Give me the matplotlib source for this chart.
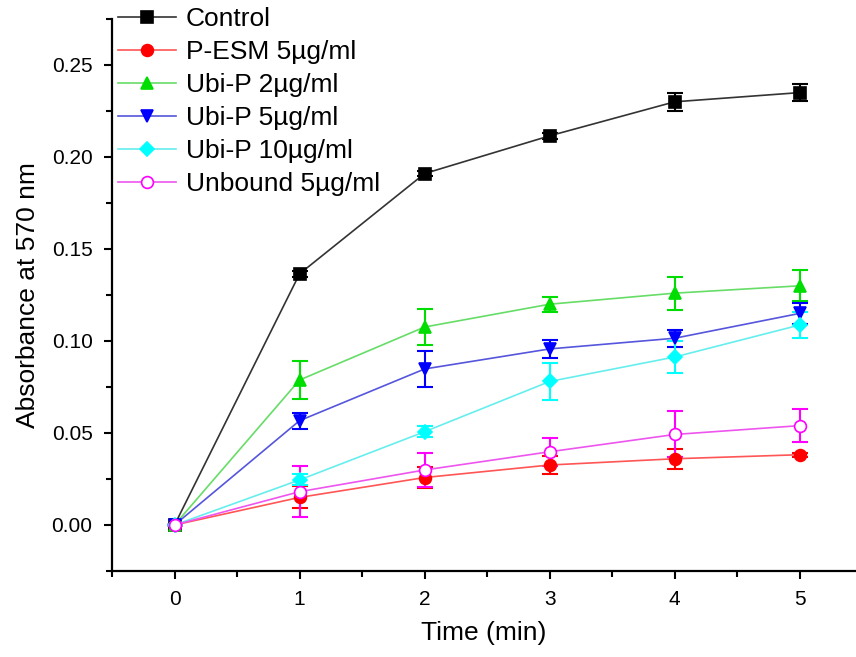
import numpy as np
import matplotlib.pyplot as plt
from matplotlib.ticker import MultipleLocator

plt.rcParams['font.family'] = ['Liberation Sans', 'DejaVu Sans']

time_min = [0, 1, 2, 3, 4, 5]

control = [0.0, 0.1365, 0.1910, 0.2115, 0.2300, 0.2350]
control_err = [0.0, 0.0015, 0.0015, 0.0015, 0.0050, 0.0045]

pesm = [0.0, 0.0150, 0.0258, 0.0326, 0.0360, 0.0382]
pesm_err = [0.0, 0.0060, 0.0058, 0.0050, 0.0054, 0.0010]

ubi2 = [0.0, 0.0788, 0.1076, 0.1200, 0.1260, 0.1300]
ubi2_err = [0.0, 0.0105, 0.0100, 0.0040, 0.0090, 0.0085]

ubi5 = [0.0, 0.0567, 0.0848, 0.0957, 0.1015, 0.1150]
ubi5_err = [0.0, 0.0043, 0.0100, 0.0050, 0.0045, 0.0055]

ubi10 = [0.0, 0.0245, 0.0507, 0.0780, 0.0913, 0.1087]
ubi10_err = [0.0, 0.0030, 0.0030, 0.0100, 0.0087, 0.0072]

unbound = [0.0, 0.0181, 0.0299, 0.0398, 0.0492, 0.0540]
unbound_err = [0.0, 0.0140, 0.0094, 0.0075, 0.0125, 0.0090]

labels = ['Control', 'P-ESM 5µg/ml', 'Ubi-P 2µg/ml', 'Ubi-P 5µg/ml',
          'Ubi-P 10µg/ml', 'Unbound 5µg/ml']

fig = plt.figure(figsize=(8.56, 6.57), dpi=100)
ax = fig.add_axes([112 / 856, 86 / 657, 744 / 856, 552 / 657])

series = [
    (control, control_err, 's', '#000000', True),
    (pesm, pesm_err, 'o', '#ff0000', True),
    (ubi2, ubi2_err, '^', '#00dd00', True),
    (ubi5, ubi5_err, 'v', '#0000ff', True),
    (ubi10, ubi10_err, 'D', '#00ffff', True),
    (unbound, unbound_err, 'o', '#ff00ff', False),
]
line_cols = ['#333333', '#ff5555', '#66dd66', '#5555dd', '#66eeee', '#ee55ee']

for (vals, err, mk, col, filled), lc, lab in zip(series, line_cols, labels):
    ms = 8.5 if mk != 'D' else 7
    ax.errorbar(time_min, vals, yerr=err, fmt='none', ecolor=col,
                elinewidth=1.5, capsize=6, capthick=1.5, zorder=2)
    ax.plot(time_min, vals, color=lc, lw=1.2, marker=mk, markersize=ms,
            markerfacecolor=col if filled else 'white',
            markeredgecolor=col, markeredgewidth=1.2, label=lab, zorder=3)

ax.set_xlim(-0.5, 5.45)
ax.set_ylim(-0.025, 0.275)
ax.xaxis.set_major_locator(MultipleLocator(1))
ax.xaxis.set_minor_locator(MultipleLocator(0.5))
ax.yaxis.set_major_locator(MultipleLocator(0.05))
ax.yaxis.set_minor_locator(MultipleLocator(0.025))
ax.yaxis.set_major_formatter(plt.FuncFormatter(lambda v, p: '%.2f' % v))

for s in ['top', 'right']:
    ax.spines[s].set_visible(False)
for s in ['left', 'bottom']:
    ax.spines[s].set_linewidth(1.6)

ax.tick_params(which='major', length=6, width=1.5, labelsize=15, pad=8)
ax.tick_params(which='minor', length=4, width=1.5)

ax.set_xlabel('Time (min)', fontsize=19, labelpad=8)
ax.set_ylabel('Absorbance at 570 nm', fontsize=19, labelpad=8)

leg = ax.legend(loc='upper left', bbox_to_anchor=(-0.02, 1.06), frameon=False,
                numpoints=1, handlelength=2.2, handletextpad=0.35,
                labelspacing=0.34, borderpad=0.3, prop={'size': 19})

fig.savefig('out.png', dpi=100)
